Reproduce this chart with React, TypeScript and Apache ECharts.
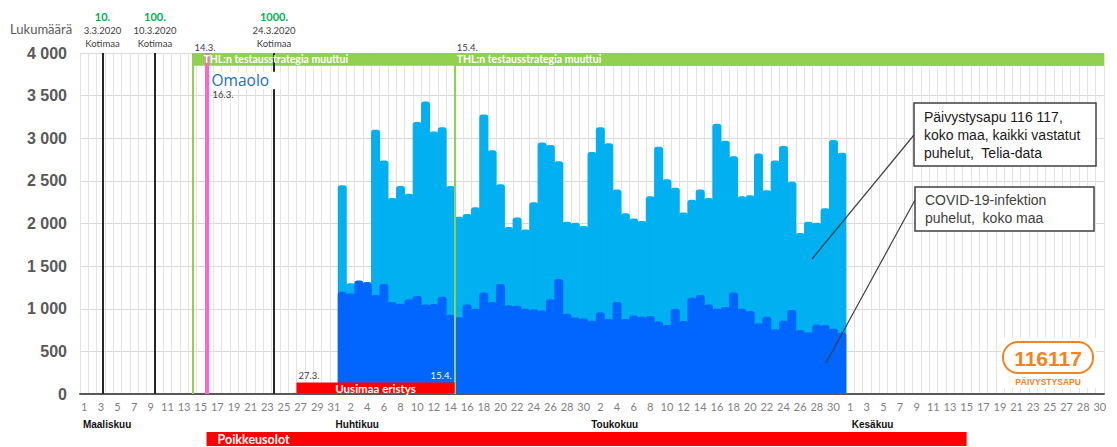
import React, { useEffect, useRef } from "react";
import * as echarts from "echarts";

// ---- categories (one per day, 1.3. – 30.6.; the source axis repeats a slot near the end of June)
const MARCH_DAYS = ["1","2","3","4","5","6","7","8","9","10","11","12","13","14","15","16","17","18","19","20","21","22","23","24","25","26","27","28","29","30","31"];
const APRIL_DAYS = ["1","2","3","4","5","6","7","8","9","10","11","12","13","14","15","16","17","18","19","20","21","22","23","24","25","26","27","28","29","30"];
const MAY_DAYS = ["1","2","3","4","5","6","7","8","9","10","11","12","13","14","15","16","17","18","19","20","21","22","23","24","25","26","27","28","29","30","31"];
const JUNE_DAYS = ["1","2","3","4","5","6","7","8","9","10","11","12","13","14","15","16","17","18","19","20","21","22","23","24","25","26","27","","28","29","30"];

// ---- series values, 1.4. – 31.5.
const TOTAL_CALLS = [
  2450, 1300, 1285, 1315, 3100, 2740, 2300, 2440, 2350, 3190, 3430, 3080, 3130, 2440, 2080,
  2110, 2190, 3280, 2860, 2460, 1960, 2070, 1930, 2250, 2950, 2920, 2730, 2020, 2010, 1970,
  2840, 3130, 2940, 2400, 2120, 2060, 2030, 2320, 2900, 2520, 2420, 2130, 2280, 2400, 2300,
  3170, 2970, 2790, 2320, 2330, 2820, 2390, 2740, 2910, 2490, 1890, 2020, 2010, 2180, 2980, 2830,
];
const COVID_CALLS = [
  1200, 1180, 1330, 1310, 1160, 1290, 1080, 1060, 1110, 1150, 1050, 1055, 1140, 930, 900,
  1050, 1000, 1190, 1080, 1290, 1040, 1035, 1000, 995, 980, 1110, 1350, 940, 900, 885,
  860, 960, 880, 1080, 880, 920, 905, 915, 850, 810, 1000, 855, 1130, 1160, 1050,
  1000, 1020, 1190, 1000, 975, 830, 905, 760, 860, 985, 750, 725, 815, 810, 765, 720,
];

const Y_MIN = 0;
const Y_MAX = 4000;
const Y_STEP = 500;

// ---- annotations (day positions on the axis, 0 = 1.3.)
const MILESTONES = [
  { day: 2.2, count: "10.", date: "3.3.2020", place: "Kotimaa" },
  { day: 8.5, count: "100.", date: "10.3.2020", place: "Kotimaa" },
  { day: 22.8, count: "1000.", date: "24.3.2020", place: "Kotimaa" },
];
const THL_CHANGES = [
  { day: 13, label: "14.3.", text: "THL:n testausstrategia muuttui", textOffset: 11 },
  { day: 44.5, label: "15.4.", text: "THL:n testausstrategia muuttui", textOffset: 2 },
];
const OMAOLO = { day: 14.7, label: "16.3.", name: "Omaolo" };
const UUSIMAA = { from: 25.5, to: 44.5, fromLabel: "27.3.", toLabel: "15.4.", name: "Uusimaa eristys", height: 135 };
const POIKKEUS = { from: 14.7, to: 106, name: "Poikkeusolot" };
const MONTHS = [
  { name: "Maaliskuu", day: -0.15 },
  { name: "Huhtikuu", day: 30.2 },
  { name: "Toukokuu", day: 60.9 },
  { name: "Kesäkuu", day: 92.2 },
];
const THL_BAR_LOW = 3850;
const LAST_POS = 122.5;

const CATEGORIES = [...MARCH_DAYS, ...APRIL_DAYS, ...MAY_DAYS, ...JUNE_DAYS];
const LEAD = MARCH_DAYS.length;

function pad(values: number[]) {
  const out: (number | null)[] = CATEGORIES.map(() => null);
  values.forEach((v, i) => (out[LEAD + i] = v));
  return out;
}

function fmt(v: number) {
  if (v >= 1000) return `${Math.floor(v / 1000)} ${String(v % 1000).padStart(3, "0")}`;
  return String(v);
}

const LIGHT = "#00b0f0";
const DARK = "#0066ff";
const GREEN = "#92d050";
const RED = "#ff0000";
const ORANGE = "#f58220";
const SANS = "Liberation Sans, Arial, sans-serif";
const CAL = "Lato, Liberation Sans, sans-serif";

export default function App() {
  const ref = useRef<HTMLDivElement>(null);

  useEffect(() => {
    document.body.style.margin = "0";
    const chart = echarts.init(ref.current!, null, { renderer: "svg" });

    const option: any = {
      animation: false,
      backgroundColor: "#ffffff",
      grid: { left: 80, right: 13, top: 53, bottom: 53 },
      xAxis: [
        {
          type: "category",
          data: CATEGORIES,
          boundaryGap: true,
          axisTick: { show: false },
          axisLine: { lineStyle: { color: "#595959", width: 2 } },
          axisLabel: { interval: 1, color: "#7f7f7f", fontSize: 11, fontFamily: CAL, margin: 7 },
          splitLine: { show: true, interval: 0, lineStyle: { color: "#e3e3e3", width: 1 } },
        },
        { type: "value", min: -0.5, max: LAST_POS, show: false },
      ],
      yAxis: {
        type: "value",
        min: Y_MIN,
        max: Y_MAX,
        interval: Y_STEP,
        axisLine: { show: false },
        axisTick: { show: false },
        axisLabel: { formatter: fmt, color: "#595959", fontSize: 16, fontWeight: "bold", fontFamily: SANS, margin: 13 },
        splitLine: { lineStyle: { color: "#d9d9d9", width: 1 } },
      },
      series: [
        {
          type: "line",
          xAxisIndex: 1,
          data: [],
          z: 0,
          silent: true,
          markArea: {
            silent: true,
            itemStyle: { color: GREEN },
            data: THL_CHANGES.map((c) => [
              { xAxis: c.day, yAxis: THL_BAR_LOW },
              { xAxis: LAST_POS, yAxis: Y_MAX },
            ]),
          },
        },
        {
          type: "line",
          xAxisIndex: 1,
          data: [],
          z: 1,
          silent: true,
          markLine: {
            silent: true,
            symbol: ["none", "none"],
            label: { show: false },
            data: [
              ...MILESTONES.map((m) => ({ xAxis: m.day, lineStyle: { color: "#262626", width: 2, type: "solid" } })),
              ...THL_CHANGES.map((c) => ({ xAxis: c.day, lineStyle: { color: GREEN, width: 2, type: "solid" } })),
              { xAxis: OMAOLO.day, lineStyle: { color: "#ff66cc", width: 4, type: "solid" } },
            ],
          },
        },
        {
          name: "Päivystysapu 116 117",
          type: "bar",
          data: pad(TOTAL_CALLS),
          barWidth: "108%",
          barGap: "-100%",
          z: 2,
          itemStyle: { color: LIGHT, borderRadius: [3, 3, 0, 0] },
        },
        {
          name: "COVID-19-infektion puhelut",
          type: "bar",
          data: pad(COVID_CALLS),
          barWidth: "108%",
          barGap: "-100%",
          z: 2,
          itemStyle: { color: DARK, borderRadius: [3, 3, 0, 0] },
        },
      ],
    };
    chart.setOption(option);

    const px = (d: number) => chart.convertToPixel({ xAxisIndex: 1 }, d) as number;
    const py = (v: number) => chart.convertToPixel({ yAxisIndex: 0 }, v) as number;
    const yTop = py(Y_MAX);
    const yBase = py(0);
    const thlMid = (py(Y_MAX) + py(THL_BAR_LOW)) / 2;

    const txt = (x: number, y: number, text: string, o: any = {}) => ({
      type: "text",
      x,
      y,
      silent: true,
      z: 100,
      style: {
        text,
        fill: o.fill || "#404040",
        fontSize: o.fontSize || 9,
        fontWeight: o.fontWeight || "normal",
        fontFamily: o.fontFamily || CAL,
        textAlign: o.align || "left",
        textVerticalAlign: o.valign || "middle",
        lineHeight: o.lineHeight,
      },
    });

    const g: any[] = [];
    g.push(txt(10, 29, "Lukumäärä", { fontSize: 13, fill: "#595959" }));
    MILESTONES.forEach((m) => {
      const x = px(m.day);
      g.push(txt(x, 16, m.count, { align: "center", fill: "#00b050", fontWeight: "bold", fontSize: 11 }));
      g.push(txt(x, 30, m.date, { align: "center", fontSize: 9.5 }));
      g.push(txt(x, 43, m.place, { align: "center", fontSize: 9.5 }));
    });
    THL_CHANGES.forEach((c) => {
      const x = px(c.day);
      g.push(txt(x + 2, yTop - 6, c.label, { fontSize: 9.5 }));
      g.push(txt(x + c.textOffset, thlMid, c.text, { fill: "#fff", fontWeight: "bold", fontSize: 10.5 }));
    });
    // Omaolo logo box
    const ox = px(OMAOLO.day);
    g.push({ type: "rect", silent: true, z: 99, shape: { x: ox + 3, y: 72, width: 71, height: 17 }, style: { fill: "#fff", stroke: "#eeeeee", lineWidth: 0.5 } });
    g.push(txt(ox + 5, 80, OMAOLO.name, { fontSize: 15.5, fill: "#1e6eb4", fontFamily: "Open Sans, sans-serif" }));
    g.push(txt(ox + 6, 94.5, OMAOLO.label, { fontSize: 9.5 }));
    // Uusimaa eristys bar (above the bars)
    const u1 = px(UUSIMAA.from);
    const u2 = px(UUSIMAA.to);
    const uTop = py(UUSIMAA.height);
    g.push({ type: "rect", silent: true, z: 95, shape: { x: u1, y: uTop, width: u2 - u1, height: yBase - uTop - 1 }, style: { fill: RED } });
    g.push(txt((u1 + u2) / 2, (uTop + yBase) / 2, UUSIMAA.name, { align: "center", fill: "#fff", fontWeight: "bold", fontSize: 11.5 }));
    g.push(txt(u1 + 2, uTop - 7, UUSIMAA.fromLabel, { fontSize: 9.5 }));
    g.push(txt(u2 - 3, uTop - 7, UUSIMAA.toLabel, { fontSize: 9.5, fill: "#ffffff", align: "right" }));
    // Poikkeusolot bar
    const p1 = px(POIKKEUS.from);
    const p2 = px(POIKKEUS.to);
    g.push({ type: "rect", silent: true, z: 99, shape: { x: p1, y: 432, width: p2 - p1, height: 14 }, style: { fill: RED } });
    g.push(txt(p1 + 11, 439.5, POIKKEUS.name, { fill: "#fff", fontWeight: "bold", fontSize: 12.5 }));
    // months
    MONTHS.forEach((m) => g.push(txt(px(m.day), 424, m.name, { fontWeight: "bold", fontSize: 10, fill: "#111", fontFamily: SANS })));
    // callouts
    g.push({ type: "line", silent: true, z: 98, shape: { x1: 914, y1: 135, x2: 812, y2: 259 }, style: { stroke: "#404040", lineWidth: 1.2 } });
    g.push({ type: "line", silent: true, z: 98, shape: { x1: 915, y1: 200, x2: 826, y2: 363 }, style: { stroke: "#404040", lineWidth: 1.2 } });
    g.push({ type: "rect", silent: true, z: 99, shape: { x: 914, y: 103, width: 182, height: 63 }, style: { fill: "#fff", stroke: "#404040", lineWidth: 1.5 } });
    g.push(txt(924, 108, "Päivystysapu 116 117,\nkoko maa, kaikki vastatut\npuhelut,  Telia-data", { fontSize: 14, fill: "#1a1a1a", fontFamily: SANS, valign: "top", lineHeight: 18 }));
    g.push({ type: "rect", silent: true, z: 99, shape: { x: 915, y: 187, width: 179, height: 44 }, style: { fill: "#fff", stroke: "#404040", lineWidth: 1.5 } });
    g.push(txt(925, 191, "COVID-19-infektion\npuhelut,  koko maa", { fontSize: 14, fill: "#404040", fontFamily: SANS, valign: "top", lineHeight: 18 }));
    // 116117 logo
    g.push({ type: "rect", silent: true, z: 97, shape: { x: 1001, y: 338, width: 95, height: 50 }, style: { fill: "#fff" } });
    g.push({ type: "rect", silent: true, z: 99, shape: { x: 1003, y: 342, width: 90, height: 31, r: 15 }, style: { fill: "#fff", stroke: ORANGE, lineWidth: 2 } });
    g.push(txt(1048, 358, "116117", { align: "center", fontSize: 21, fontWeight: "bold", fill: ORANGE, fontFamily: SANS }));
    g.push(txt(1048, 382, "PÄIVYSTYSAPU", { align: "center", fontSize: 8.5, fontWeight: "bold", fill: ORANGE, fontFamily: SANS }));

    chart.setOption({ graphic: g });
    return () => chart.dispose();
  }, []);

  return <div ref={ref} style={{ width: 1117, height: 447 }} />;
}
